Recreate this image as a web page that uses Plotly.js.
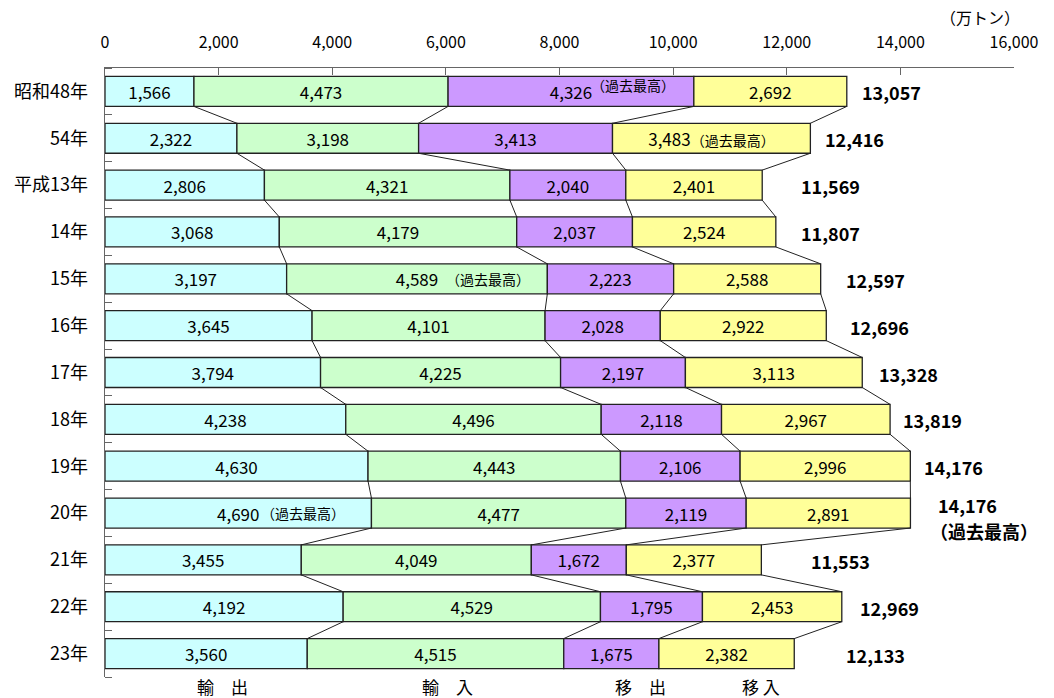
<!DOCTYPE html>
<html>
<head>
<meta charset="utf-8">
<script src="https://cdn.plot.ly/plotly-3.0.1.min.js"></script>
<style>
  html, body { margin: 0; padding: 0; background: #ffffff; }
  #chart { width: 1054px; height: 698px; }
</style>
</head>
<body>
<div id="chart"></div>
<script>
// Years (rows, top to bottom)
const years = ['昭和48年', '54年', '平成13年', '14年', '15年', '16年', '17年', '18年', '19年', '20年', '21年', '22年', '23年'];

// Cargo volume by category (万トン)
const exportVol   = [1566, 2322, 2806, 3068, 3197, 3645, 3794, 4238, 4630, 4690, 3455, 4192, 3560]; // 輸出
const importVol   = [4473, 3198, 4321, 4179, 4589, 4101, 4225, 4496, 4443, 4477, 4049, 4529, 4515]; // 輸入
const shipOutVol  = [4326, 3413, 2040, 2037, 2223, 2028, 2197, 2118, 2106, 2119, 1672, 1795, 1675]; // 移出
const shipInVol   = [2692, 3483, 2401, 2524, 2588, 2922, 3113, 2967, 2996, 2891, 2377, 2453, 2382]; // 移入
const totalVol    = [13057, 12416, 11569, 11807, 12597, 12696, 13328, 13819, 14176, 14176, 11553, 12969, 12133];

const seriesNames = ['輸　出', '輸　入', '移　出', '移 入'];
const seriesData = [exportVol, importVol, shipOutVol, shipInVol];
const seriesColors = ['#CCFFFF', '#CCFFCC', '#CC99FF', '#FFFF99'];

// Record-high marks: [row, series]
const recordMarks = [[0, 2], [1, 3], [4, 1], [9, 0]];
const recordNote = '（過去最高）';
const recordTotalRow = 9;

// Layout helpers (pixel nudges for annotation placement)
const totalLabelShift = [14, 14, 38, 24, 24, 23, 16, 12, 13, 27, 49, 17, 51];
const noteStyle = {
  '0,2': { inline: false, xshift: 19, yshift: 6 },
  '1,3': { inline: true },
  '4,1': { inline: false, xshift: 28, yshift: 0 },
  '9,0': { inline: false, xshift: 22, yshift: 0 }
};

const FONT = '"Noto Sans CJK JP", "Noto Sans", sans-serif';
const NOTE_SIZE = 14;
const BAR_W = 0.64;
const rows = years.map((_, i) => i);
const fmt = v => v.toLocaleString('en-US');

// Cumulative boundaries per row
const cum = rows.map(i => {
  let s = 0;
  const out = [0];
  seriesData.forEach(arr => { s += arr[i]; out.push(s); });
  return out;
});

const traces = [];
const annotations = [];

seriesData.forEach((arr, k) => {
  const text = arr.map((v, i) => {
    const st = noteStyle[i + ',' + k];
    if (st && st.inline) {
      return fmt(v) + '<span style="font-size:' + NOTE_SIZE + 'px">' + recordNote + '</span>';
    }
    return fmt(v);
  });
  traces.push({
    type: 'bar',
    orientation: 'h',
    name: seriesNames[k],
    x: arr,
    y: rows,
    width: BAR_W,
    base: rows.map(i => cum[i][k]),
    marker: { color: seriesColors[k], line: { color: '#222222', width: 1.3 } },
    text: text,
    textposition: 'inside',
    insidetextanchor: 'middle',
    constraintext: 'none',
    textangle: 0,
    textfont: { family: FONT, size: 17, color: '#000000' },
    hoverinfo: 'skip',
    showlegend: false
  });
});

// Connector lines between consecutive bars at each segment boundary
for (let k = 1; k <= seriesData.length; k++) {
  const xs = [], ys = [];
  for (let i = 0; i < rows.length - 1; i++) {
    xs.push(cum[i][k], cum[i + 1][k], null);
    ys.push(i + BAR_W / 2, i + 1 - BAR_W / 2, null);
  }
  traces.push({
    type: 'scatter',
    mode: 'lines',
    x: xs,
    y: ys,
    line: { color: '#222222', width: 1 },
    hoverinfo: 'skip',
    showlegend: false,
    cliponaxis: false
  });
}

// Record-high notes placed beside the value
recordMarks.forEach(([i, k]) => {
  const st = noteStyle[i + ',' + k];
  if (st.inline) return;
  annotations.push({
    x: cum[i][k] + seriesData[k][i] / 2,
    y: i,
    xref: 'x', yref: 'y',
    text: recordNote,
    showarrow: false,
    xanchor: 'left',
    yanchor: 'middle',
    xshift: st.xshift,
    yshift: st.yshift,
    borderpad: 0,
    font: { family: FONT, size: NOTE_SIZE, color: '#000000' }
  });
});

// Totals to the right of each bar
rows.forEach(i => {
  const isRecord = i === recordTotalRow;
  annotations.push({
    x: cum[i][4],
    y: i,
    xref: 'x', yref: 'y',
    text: '<b>' + fmt(totalVol[i]) + '</b>',
    showarrow: false,
    xanchor: 'left',
    yanchor: 'middle',
    align: 'left',
    xshift: totalLabelShift[i],
    yshift: isRecord ? 8 : -1,
    borderpad: 0,
    font: { family: FONT, size: 18, color: '#000000' }
  });
  if (isRecord) {
    annotations.push({
      x: cum[i][4],
      y: i,
      xref: 'x', yref: 'y',
      text: '<b>' + recordNote + '</b>',
      showarrow: false,
      xanchor: 'left',
      yanchor: 'middle',
      align: 'left',
      xshift: totalLabelShift[i] - 8,
      yshift: -18,
      borderpad: 0,
      font: { family: FONT, size: 18, color: '#000000' }
    });
  }
});

// Category names under the bars
const seriesLabelX = [2060, 6020, 9420, 11550];
seriesNames.forEach((name, k) => {
  annotations.push({
    x: seriesLabelX[k],
    y: 0,
    xref: 'x', yref: 'paper',
    text: name,
    showarrow: false,
    xanchor: 'center',
    yanchor: 'top',
    yshift: 5,
    font: { family: FONT, size: 17, color: '#000000' }
  });
});

// Unit
annotations.push({
  x: 1, y: 1,
  xref: 'paper', yref: 'paper',
  text: '（万トン）',
  showarrow: false,
  xanchor: 'right',
  yanchor: 'middle',
  xshift: 8,
  yshift: 51,
  font: { family: FONT, size: 16, color: '#000000' }
});

const layout = {
  width: 1054,
  height: 698,
  margin: { l: 105, r: 40, t: 68, b: 21 },
  paper_bgcolor: '#ffffff',
  plot_bgcolor: '#ffffff',
  barmode: 'overlay',
  showlegend: false,
  font: { family: FONT, color: '#000000' },
  xaxis: {
    side: 'top',
    range: [0, 16000],
    tickmode: 'linear',
    tick0: 0,
    dtick: 2000,
    tickformat: ',d',
    ticks: 'inside',
    ticklen: 7,
    tickcolor: '#666666',
    ticklabelstandoff: 12,
    showline: true,
    linecolor: '#666666',
    linewidth: 1.3,
    showgrid: false,
    zeroline: false,
    fixedrange: true,
    tickfont: { family: FONT, size: 16, color: '#000000' }
  },
  yaxis: {
    range: [12.5, -0.5],
    tickmode: 'array',
    tickvals: rows,
    ticktext: years,
    ticks: '',
    ticklabelstandoff: 12,
    showline: true,
    linecolor: '#666666',
    linewidth: 1.3,
    showgrid: false,
    zeroline: false,
    fixedrange: true,
    tickfont: { family: FONT, size: 18, color: '#000000' },
    minor: {
      tickmode: 'linear',
      tick0: 0.5,
      dtick: 1,
      ticks: 'inside',
      ticklen: 7,
      tickcolor: '#666666',
      showgrid: false
    }
  },
  annotations: annotations
};

Plotly.newPlot('chart', traces, layout, { staticPlot: true, displayModeBar: false });
</script>
</body>
</html>
